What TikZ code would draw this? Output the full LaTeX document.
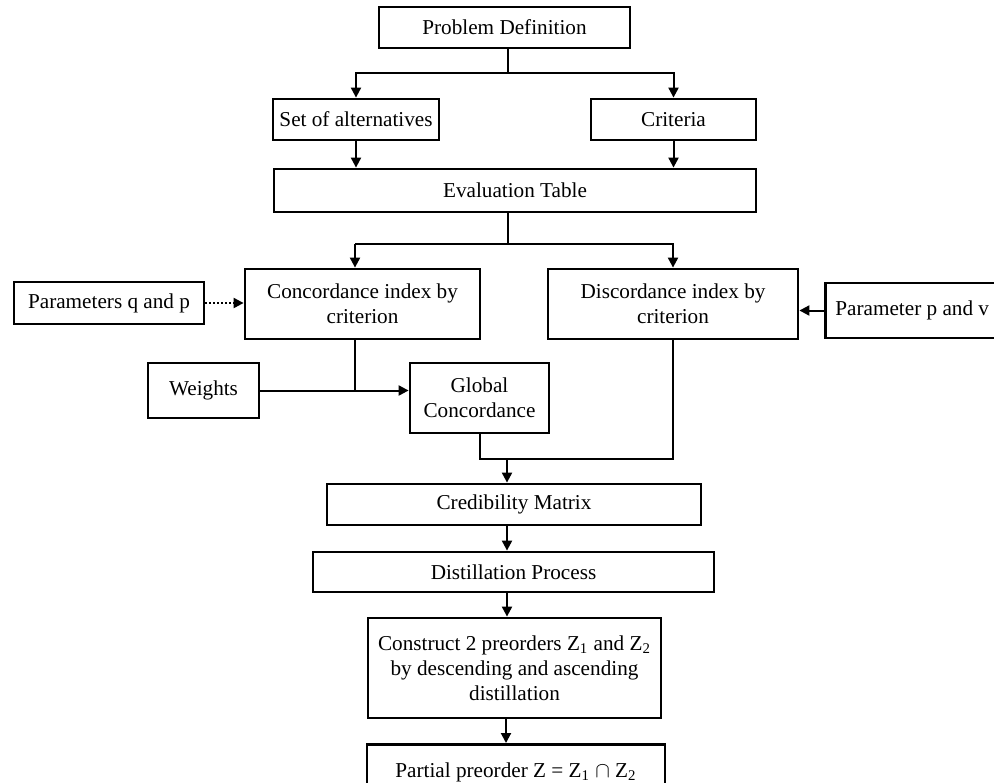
\documentclass[tikz,border=0pt]{standalone}
\usepackage{fontspec}
\setmainfont{Liberation Serif}
\usetikzlibrary{arrows.meta,calc}
\begin{document}
\begin{tikzpicture}[x=0.5pt,y=-0.5pt,
  font=\fontsize{10.6}{12.5}\selectfont,
  box/.style={draw,line width=1.4pt,rectangle,inner sep=0pt,align=center},
  link/.style={line width=1pt},
  arr/.style={line width=1pt,-{Triangle[length=5pt,width=5pt]}}]
\useasboundingbox (0,0) rectangle (994,782);
\clip (0,0) rectangle (994,782);

% boxes
\node[box,minimum width=125.5pt,minimum height=20.5pt] (pd) at (504.5,27.5) {Problem Definition};
\node[box,minimum width=83pt,minimum height=20.5pt] (alt) at (356,119.5) {Set of alternatives};
\node[box,minimum width=82.5pt,minimum height=20.5pt] (crit) at (673.5,119.5) {Criteria};
\node[box,minimum width=241pt,minimum height=21.5pt] (eval) at (515,190.5) {Evaluation Table};
\node[box,minimum width=117.5pt,minimum height=35pt] (conc) at (362.5,304) {Concordance index by\\criterion};
\node[box,minimum width=125pt,minimum height=35pt] (disc) at (673,304) {Discordance index by\\criterion};
\node[box,minimum width=95pt,minimum height=21pt] (pqp) at (109,303) {Parameters q and p};
\node[box,anchor=west,minimum height=27.5pt,inner xsep=5pt] (ppv) at (824,310.5) {Parameter p and v};
\node[box,minimum width=55.5pt,minimum height=27.5pt] (wts) at (203.5,390.5) {Weights};
\node[box,minimum width=69.5pt,minimum height=35pt] (gc) at (479.5,398) {Global\\Concordance};
\node[box,minimum width=187pt,minimum height=20.5pt] (cred) at (514,504.5) {Credibility Matrix};
\node[box,minimum width=200.5pt,minimum height=20pt] (dist) at (513.5,572) {Distillation Process};
\node[box,minimum width=146.5pt,minimum height=50pt] (cons) at (514.5,668) {Construct 2 preorders Z\textsubscript{1} and Z\textsubscript{2}\\by descending and ascending\\distillation};
\node[box,minimum width=149pt,minimum height=23pt,anchor=north] (part) at (516,743) {\rule{0pt}{12pt}Partial preorder Z = Z\textsubscript{1} $\cap$ Z\textsubscript{2}};

% junction points
\coordinate (j1) at (508,73);
\coordinate (j2) at (508,244);
\coordinate (cl) at (355,244);
\coordinate (cw) at (355,391);
\coordinate (jm) at (507,459);
\coordinate (k) at (506,718);

% problem definition to its two branches
\draw[link] (j1 |- pd.south) -- (j1);
\draw[arr] (j1) -| (alt.north);
\draw[arr] (j1) -| (crit.north);
\draw[arr] (alt.south) -- (alt.south |- eval.north);
\draw[arr] (crit.south) -- (crit.south |- eval.north);

% evaluation table to the two indices
\draw[link] (j2 |- eval.south) -- (j2);
\draw[link] (j2) -- (cl);
\draw[arr] (cl) -- (cl |- conc.north);
\draw[arr] (j2) -| (disc.north);

% parameters
\draw[arr,densely dotted] (pqp.east) -- (pqp.east -| conc.west);
\draw[arr] (ppv.west) -- (ppv.west -| disc.east);

% concordance and weights into global concordance
\draw[link] (cw |- conc.south) -- (cw);
\draw[arr] (wts.east) -- (wts.east -| gc.west);

% global concordance and discordance merge into credibility
\draw[link] (gc.south) |- (disc.south |- jm) -- (disc.south);
\draw[arr] (jm) -- (jm |- cred.north);
\draw[arr] (jm |- cred.south) -- (jm |- dist.north);
\draw[arr] (jm |- dist.south) -- (jm |- cons.north);
\draw[arr] (k |- cons.south) -- (k |- part.north);
\end{tikzpicture}
\end{document}
